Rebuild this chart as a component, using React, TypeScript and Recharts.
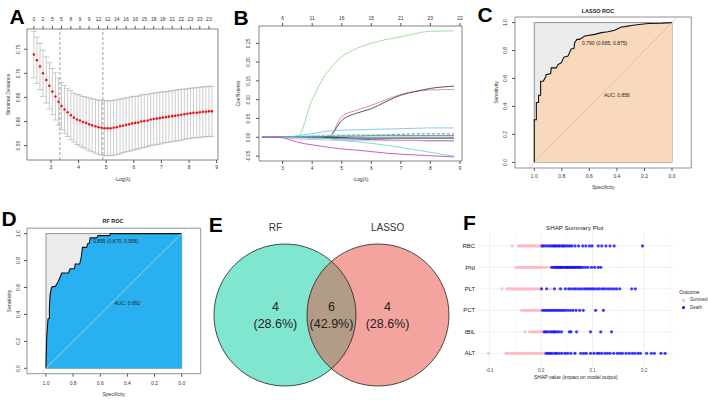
import React from "react"
import {
  ComposedChart, Line, Area, XAxis, YAxis, ErrorBar, ReferenceLine, ReferenceArea, ReferenceDot,
  ScatterChart, Scatter,
} from "recharts"

const FONT = "'Liberation Sans', Arial, Helvetica, sans-serif"

// ---- A: cv binomial deviance ----
const lambdaA = [2.38, 2.49, 2.6, 2.71, 2.83, 2.94, 3.05, 3.16, 3.27, 3.38, 3.49, 3.6, 3.72, 3.83, 3.94, 4.05, 4.16, 4.27, 4.38, 4.49, 4.61, 4.72, 4.83, 4.94, 5.05, 5.16, 5.27, 5.38, 5.5, 5.61, 5.72, 5.83, 5.94, 6.05, 6.16, 6.27, 6.38, 6.5, 6.61, 6.72, 6.83, 6.94, 7.05, 7.16, 7.27, 7.39, 7.5, 7.61, 7.72, 7.83, 7.94, 8.05, 8.16, 8.28, 8.39, 8.5, 8.61, 8.72, 8.83]
const devianceA = [0.739, 0.727, 0.714, 0.7, 0.686, 0.674, 0.662, 0.652, 0.641, 0.632, 0.625, 0.619, 0.613, 0.608, 0.604, 0.602, 0.599, 0.597, 0.594, 0.592, 0.59, 0.588, 0.587, 0.586, 0.586, 0.586, 0.587, 0.588, 0.59, 0.591, 0.593, 0.594, 0.596, 0.597, 0.598, 0.6, 0.601, 0.602, 0.604, 0.605, 0.606, 0.607, 0.608, 0.609, 0.61, 0.611, 0.612, 0.613, 0.614, 0.615, 0.616, 0.617, 0.618, 0.618, 0.619, 0.62, 0.62, 0.621, 0.621]
const seA = [0.048, 0.048, 0.048, 0.048, 0.048, 0.048, 0.048, 0.049, 0.049, 0.049, 0.05, 0.05, 0.051, 0.051, 0.052, 0.053, 0.053, 0.054, 0.055, 0.055, 0.056, 0.056, 0.057, 0.057, 0.057, 0.057, 0.057, 0.057, 0.057, 0.056, 0.056, 0.056, 0.056, 0.055, 0.055, 0.055, 0.055, 0.054, 0.054, 0.054, 0.054, 0.054, 0.053, 0.053, 0.053, 0.053, 0.053, 0.053, 0.053, 0.052, 0.052, 0.052, 0.052, 0.052, 0.052, 0.052, 0.052, 0.052, 0.052]
const topPosA = [2.38, 2.71, 3.05, 3.38, 3.72, 4.05, 4.38, 4.72, 5.05, 5.38, 5.72, 6.05, 6.38, 6.72, 7.05, 7.39, 7.72, 8.05, 8.39, 8.72]
const topLabelsA = ["0", "2", "5", "5", "8", "9", "9", "12", "12", "14", "16", "16", "15", "18", "18", "21", "22", "23", "23", "23"]
const cutsA = [3.32, 4.88]

// ---- B: coefficient paths ----
const lambdaB = [2.3, 2.8, 3.2, 3.5, 4.0, 4.5, 4.6, 5.0, 5.5, 6.0, 6.5, 7.0, 7.5, 8.0, 8.8]
const topLabelsB = ["6", "11", "16", "15", "21", "23", "22"]
const coefB: { name: string; color: string; dash?: string; values: number[] }[] = [
  { name: "v1", color: "#96d896", values: [0, 0, 0, 0.001, 0.1, 0.172, 0.182, 0.214, 0.236, 0.25, 0.26, 0.267, 0.276, 0.282, 0.283] },
  { name: "v2", color: "#e6789a", values: [0, 0, 0, 0, 0, 0, 0.003, 0.055, 0.072, 0.085, 0.1, 0.114, 0.122, 0.126, 0.127] },
  { name: "v3", color: "#444444", values: [0, 0, 0, 0, 0, 0, 0.003, 0.045, 0.064, 0.076, 0.095, 0.112, 0.122, 0.13, 0.136] },
  { name: "v4", color: "#7cc5e8", values: [0, 0, 0.001, 0.004, 0.01, 0.016, 0.017, 0.019, 0.02, 0.021, 0.022, 0.023, 0.024, 0.025, 0.025] },
  { name: "v5", color: "#7060d0", dash: "3 2", values: [0, 0, 0, 0.001, 0.003, 0.004, 0.004, 0.005, 0.006, 0.006, 0.007, 0.008, 0.009, 0.009, 0.009] },
  { name: "v6", color: "#a8e8e0", values: [0, 0, 0.001, 0.003, 0.005, 0.006, 0.006, 0.006, 0.006, 0.006, 0.006, 0.005, 0.005, 0.005, 0.005] },
  { name: "v7", color: "#3a8f5a", values: [0, 0, 0, 0, 0.001, 0.002, 0.002, 0.003, 0.003, 0.004, 0.004, 0.004, 0.004, 0.004, 0.004] },
  { name: "v8", color: "#111111", values: [0, 0, 0, 0, -0.001, -0.001, -0.001, -0.001, -0.002, -0.002, -0.002, -0.002, -0.002, -0.002, -0.002] },
  { name: "v9", color: "#5060e0", values: [0, 0, 0, 0, 0, -0.002, -0.003, -0.004, -0.005, -0.006, -0.007, -0.008, -0.008, -0.009, -0.009] },
  { name: "v10", color: "#f0a8b8", values: [0, 0, -0.002, -0.004, -0.006, -0.007, -0.008, -0.008, -0.008, -0.009, -0.009, -0.009, -0.009, -0.01, -0.01] },
  { name: "v11", color: "#5ce0d8", values: [0, 0, 0, -0.001, -0.002, -0.003, -0.004, -0.008, -0.012, -0.016, -0.021, -0.027, -0.033, -0.04, -0.05] },
  { name: "v12", color: "#c548c5", values: [0, 0, -0.005, -0.013, -0.02, -0.026, -0.027, -0.031, -0.034, -0.038, -0.042, -0.045, -0.047, -0.049, -0.052] },
]

// ---- C / D: ROC curves ----
const specLasso = [1.0, 1.0, 0.985, 0.985, 0.969, 0.969, 0.954, 0.954, 0.935, 0.915, 0.915, 0.881, 0.877, 0.84, 0.828, 0.804, 0.785, 0.756, 0.731, 0.712, 0.707, 0.69, 0.671, 0.634, 0.562, 0.513, 0.465, 0.416, 0.368, 0.344, 0.271, 0.174, 0.077, 0.0]
const sensLasso = [0.0, 0.305, 0.305, 0.429, 0.429, 0.48, 0.48, 0.58, 0.58, 0.616, 0.628, 0.635, 0.676, 0.676, 0.7, 0.712, 0.753, 0.76, 0.813, 0.815, 0.856, 0.88, 0.88, 0.904, 0.916, 0.928, 0.935, 0.945, 0.969, 0.971, 0.983, 0.993, 0.995, 1.0]
const specRf = [1.0, 0.995, 0.99, 0.985, 0.975, 0.975, 0.97, 0.96, 0.955, 0.931, 0.916, 0.901, 0.884, 0.835, 0.822, 0.79, 0.785, 0.752, 0.741, 0.731, 0.7, 0.694, 0.68, 0.674, 0.625, 0.617, 0.53, 0.526, 0.0]
const sensRf = [0.0, 0.223, 0.298, 0.367, 0.37, 0.447, 0.546, 0.596, 0.605, 0.608, 0.633, 0.665, 0.707, 0.707, 0.739, 0.739, 0.774, 0.774, 0.819, 0.898, 0.898, 0.923, 0.93, 0.968, 0.968, 0.985, 0.985, 1.0, 1.0]
const rocTicks = [1, 0.8, 0.6, 0.4, 0.2, 0]

// ---- E: Venn ----
const vennSets = ["RF", "LASSO"]
const vennColors = ["#80e6cf", "#f4a49e"]
const vennCenters = [-0.655, 0.655]
const vennCounts = ["4", "6", "4"]
const vennPcts = ["(28.6%)", "(42.9%)", "(28.6%)"]
const vennRegionX = [-0.79, 0, 0.79]
const VENN_R = 1

// ---- F: SHAP ----
const features = ["RBC", "PNI", "PLT", "PCT", "IBIL", "ALT"]
const shapSurvived: number[][] = [
  [-0.056, -0.044, -0.041, -0.039, -0.036, -0.034, -0.031, -0.029, -0.027, -0.024, -0.022, -0.019, -0.017, -0.014, -0.012, -0.009, -0.007, -0.004, -0.002, 0.001, 0.004, 0.009, 0.015, 0.022, 0.031, 0.044],
  [-0.048, -0.045, -0.043, -0.04, -0.038, -0.035, -0.032, -0.03, -0.027, -0.024, -0.021, -0.019, -0.016, -0.013, -0.01, -0.007, -0.004, -0.001, 0.003, 0.007, 0.012, 0.018],
  [-0.076, -0.066, -0.063, -0.06, -0.057, -0.054, -0.051, -0.048, -0.045, -0.042, -0.039, -0.036, -0.033, -0.03, -0.027, -0.024, -0.021, -0.018, -0.015, -0.012, -0.009, -0.006, -0.003, 0.0, 0.018, 0.035, 0.052, 0.074, 0.093],
  [-0.038, -0.034, -0.031, -0.028, -0.025, -0.022, -0.019, -0.016, -0.013, -0.01, -0.007, -0.004, -0.001],
  [-0.031, -0.022, -0.018, -0.015, -0.012, -0.009, -0.007, -0.004, -0.002, 0.001, 0.004, 0.021, 0.027],
  [-0.102, -0.068, -0.065, -0.062, -0.059, -0.056, -0.053, -0.05, -0.047, -0.044, -0.041, -0.038, -0.035, -0.032, -0.029, -0.026, -0.023, -0.02, -0.017, -0.014, -0.011, -0.008, -0.005, -0.002, 0.002, 0.006, 0.011, 0.017, 0.03, 0.047, 0.065, 0.081, 0.1],
]
const shapDeath: number[][] = [
  [0.002, 0.006, 0.011, 0.016, 0.02, 0.024, 0.027, 0.03, 0.034, 0.037, 0.041, 0.044, 0.048, 0.052, 0.056, 0.06, 0.066, 0.073, 0.081, 0.087, 0.094, 0.099, 0.111, 0.118, 0.126, 0.134, 0.142, 0.197],
  [0.021, 0.025, 0.028, 0.031, 0.034, 0.037, 0.039, 0.042, 0.045, 0.048, 0.051, 0.053, 0.056, 0.059, 0.062, 0.065, 0.068, 0.071, 0.074, 0.077, 0.081, 0.086, 0.091, 0.098, 0.104, 0.111, 0.116],
  [0.001, 0.011, 0.026, 0.038, 0.047, 0.054, 0.059, 0.064, 0.068, 0.073, 0.078, 0.083, 0.087, 0.091, 0.096, 0.1, 0.104, 0.109, 0.113, 0.118, 0.122, 0.127, 0.132, 0.137, 0.142, 0.147, 0.153, 0.176, 0.183],
  [0.003, 0.007, 0.011, 0.015, 0.019, 0.023, 0.027, 0.031, 0.035, 0.039, 0.043, 0.047, 0.052, 0.057, 0.062, 0.068, 0.075, 0.082, 0.106, 0.121],
  [0.006, 0.009, 0.012, 0.016, 0.02, 0.024, 0.027, 0.031, 0.035, 0.04, 0.055, 0.058, 0.069, 0.096, 0.116, 0.137],
  [0.01, 0.014, 0.018, 0.022, 0.027, 0.031, 0.036, 0.041, 0.047, 0.052, 0.058, 0.066, 0.077, 0.083, 0.088, 0.096, 0.103, 0.109, 0.113, 0.118, 0.124, 0.129, 0.134, 0.141, 0.148, 0.153, 0.158, 0.165, 0.171, 0.177, 0.182, 0.188, 0.193, 0.205, 0.214, 0.22, 0.233, 0.241],
]
const shapTicks = [-0.1, 0, 0.1, 0.2]
const shapMinor = [-0.05, 0.05, 0.15, 0.25]

const tickStyle = { fontSize: 5, fill: "#333", fontFamily: FONT }

function rotTick(fmt: (v: number) => string) {
  return (p: any) => (
    <text x={p.x} y={p.y} transform={`rotate(-90 ${p.x} ${p.y})`} textAnchor="middle" fontSize={5} fill="#333" fontFamily={FONT}>
      {fmt(p.payload.value)}
    </text>
  )
}

function yTitle(value: string, offset: number) {
  return { value, angle: -90, position: "insideLeft" as const, offset, style: { textAnchor: "middle", fontSize: 5, fill: "#333", fontFamily: FONT } }
}

function xTitle(value: string, offset: number) {
  return { value, position: "insideBottom" as const, offset, style: { fontSize: 5, fill: "#333", fontFamily: FONT } }
}

function Text({ x, y, size, children, bold, color }: any) {
  return (
    <div style={{ position: "absolute", left: x, top: y, transform: "translate(-50%, -50%)", fontSize: size, lineHeight: 1, fontWeight: bold ? 700 : 400, color: color || "#222", whiteSpace: "nowrap" }}>
      {children}
    </div>
  )
}

function PanelA() {
  const rows = lambdaA.map((x, i) => ({ x, dev: devianceA[i], se: seA[i] }))
  return (
    <ComposedChart width={230} height={195} data={rows} margin={{ top: 0, right: 12, bottom: 0, left: 0 }}>
      <XAxis type="number" dataKey="x" domain={[2.13, 9.05]} allowDataOverflow ticks={[3, 4, 5, 6, 7, 8, 9]} interval={0}
        height={35} tick={tickStyle} tickSize={3} tickMargin={2} axisLine={false} stroke="#555" label={xTitle("-Log(λ)", 14)} />
      <XAxis xAxisId="top" orientation="top" type="number" dataKey="x" domain={[2.13, 9.05]} allowDataOverflow ticks={topPosA} interval={0}
        height={29} tick={tickStyle} tickSize={3} tickMargin={5} axisLine={false} stroke="#555" tickFormatter={(_v: number, i: number) => topLabelsA[i]} />
      <YAxis type="number" domain={[0.52, 0.792]} allowDataOverflow ticks={[0.55, 0.6, 0.65, 0.7, 0.75]} interval={0} width={27}
        tick={rotTick((v) => v.toFixed(2))} tickSize={3} tickMargin={4} axisLine={false} stroke="#555" label={yTitle("Binomial Deviance", 8)} />
      <ReferenceArea x1={2.13} x2={9.05} y1={0.52} y2={0.792} fill="none" stroke="#666" strokeWidth={0.8} />
      {cutsA.map((c) => (
        <ReferenceLine key={c} x={c} stroke="#777" strokeWidth={0.7} strokeDasharray="3 2" />
      ))}
      <Line dataKey="dev" stroke="none" isAnimationActive={false} dot={{ r: 1.3, fill: "#e8141c", stroke: "none" }}>
        <ErrorBar dataKey="se" direction="y" width={3} stroke="#a8a8a8" strokeWidth={0.6} />
      </Line>
    </ComposedChart>
  )
}

function PanelB() {
  const rows = lambdaB.map((x, i) => {
    const r: any = { x }
    coefB.forEach((c) => (r[c.name] = c.values[i]))
    return r
  })
  return (
    <ComposedChart width={238} height={195} data={rows} margin={{ top: 0, right: 6, bottom: 0, left: 0 }}>
      <XAxis type="number" dataKey="x" domain={[2.2, 9.07]} allowDataOverflow ticks={[3, 4, 5, 6, 7, 8, 9]} interval={0}
        height={34} tick={tickStyle} tickSize={3} tickMargin={2.5} axisLine={false} stroke="#555" label={xTitle("-Log(λ)", 14)} />
      <XAxis xAxisId="top" orientation="top" type="number" dataKey="x" domain={[2.2, 9.07]} allowDataOverflow ticks={[3, 4, 5, 6, 7, 8, 9]} interval={0}
        height={26} tick={tickStyle} tickSize={3} tickMargin={3} axisLine={false} stroke="#555" tickFormatter={(_v: number, i: number) => topLabelsB[i]} />
      <YAxis type="number" domain={[-0.063, 0.296]} allowDataOverflow ticks={[-0.05, 0, 0.05, 0.1, 0.15, 0.2, 0.25]} interval={0} width={29}
        tick={rotTick((v) => v.toFixed(2))} tickSize={3} tickMargin={6} axisLine={false} stroke="#555" label={yTitle("Coefficients", 8.3)} />
      <ReferenceArea x1={2.2} x2={9.07} y1={-0.063} y2={0.296} fill="none" stroke="#666" strokeWidth={0.8} />
      {coefB.map((c) => (
        <Line key={c.name} dataKey={c.name} type="monotone" stroke={c.color} strokeWidth={0.9} strokeDasharray={c.dash} dot={false} isAnimationActive={false} />
      ))}
    </ComposedChart>
  )
}

function RocPanel(props: any) {
  const { spec, sens, fill, diag, w, h, yw, mr, mt, xh, ytm, xtm, ylab, xlab, thr, thrText, auc } = props
  const rows = spec.map((s: number, i: number) => ({ spec: s, sens: sens[i] }))
  return (
    <ComposedChart width={w} height={h} data={rows} margin={{ top: mt, right: mr, bottom: 0, left: 0 }}>
      <XAxis type="number" dataKey="spec" reversed domain={[-0.14, 1.14]} allowDataOverflow ticks={rocTicks} interval={0}
        height={xh} tick={tickStyle} tickSize={3} tickMargin={xtm} axisLine={false} stroke="#555" tickFormatter={(v: number) => v.toFixed(1)} label={xTitle("Specificity", xlab)} />
      <YAxis type="number" domain={[-0.04, 1.04]} allowDataOverflow ticks={[0, 0.2, 0.4, 0.6, 0.8, 1]} interval={0} width={yw}
        tick={rotTick((v) => v.toFixed(1))} tickSize={3} tickMargin={ytm} axisLine={false} stroke="#555" label={yTitle("Sensitivity", ylab)} />
      <ReferenceArea x1={-0.14} x2={1.14} y1={-0.04} y2={1.04} fill="none" stroke="#777" strokeWidth={0.8} />
      <ReferenceArea x1={0} x2={1} y1={0} y2={1} fill="#ebebeb" fillOpacity={1} stroke="#7a7a7a" strokeWidth={0.8} />
      <Area dataKey="sens" type="linear" fill={fill} fillOpacity={1} stroke="#111" strokeWidth={1.1} isAnimationActive={false} />
      <ReferenceLine segment={[{ x: 1.04, y: -0.04 }, { x: -0.04, y: 1.04 }]} stroke={diag} strokeWidth={0.7} />
      <ReferenceDot x={thr[0]} y={thr[1]} r={0} fill="none" stroke="none"
        label={{ value: thrText, position: "right", offset: 1, style: { fontSize: 5, fill: "#222", fontFamily: FONT } }} />
      <ReferenceDot x={0.4} y={0.484} r={0} fill="none" stroke="none"
        label={{ value: auc, position: "center", style: { fontSize: 5, fill: "#222", fontFamily: FONT } }} />
    </ComposedChart>
  )
}

function PanelE() {
  const W = 255
  const H = 205
  const xDom = [-1.739, 1.852]
  const yDom = [-1.197, 1.69]
  const px = W / (xDom[1] - xDom[0])
  const r = VENN_R * px
  const half = vennCenters[1] * px
  const hh = Math.sqrt(r * r - half * half)
  const sets = vennSets.map((name, i) => ({ x: vennCenters[i], y: 0, name, color: vennColors[i] }))
  const names = vennSets.map((name, i) => ({ x: vennRegionX[i === 0 ? 0 : 2], y: 1.23, name }))
  const regions = vennCounts.map((c, i) => ({ x: vennRegionX[i], y: 0, count: c, pct: vennPcts[i] }))
  return (
    <ScatterChart width={W} height={H} margin={{ top: 0, right: 0, bottom: 0, left: 0 }}>
      <XAxis type="number" dataKey="x" domain={xDom} allowDataOverflow hide />
      <YAxis type="number" dataKey="y" domain={yDom} allowDataOverflow hide />
      <Scatter data={sets} isAnimationActive={false}
        shape={(p: any) => <circle cx={p.cx} cy={p.cy} r={r} fill={p.payload.color} stroke="none" />} />
      <Scatter data={[{ x: 0, y: 0 }]} isAnimationActive={false}
        shape={(p: any) => (
          <path d={`M${p.cx},${p.cy - hh} A${r},${r} 0 0 0 ${p.cx},${p.cy + hh} A${r},${r} 0 0 0 ${p.cx},${p.cy - hh} Z`} fill="#b39c86" />
        )} />
      <Scatter data={sets} isAnimationActive={false}
        shape={(p: any) => <circle cx={p.cx} cy={p.cy} r={r} fill="none" stroke="#222" strokeWidth={0.8} />} />
      <Scatter data={names} isAnimationActive={false}
        shape={(p: any) => (
          <text x={p.cx} y={p.cy} dy="0.36em" textAnchor="middle" fontSize={10} fill="#333" fontFamily={FONT}>{p.payload.name}</text>
        )} />
      <Scatter data={regions} isAnimationActive={false}
        shape={(p: any) => (
          <g>
            <text x={p.cx} y={p.cy - 8.6} dy="0.36em" textAnchor="middle" fontSize={12.5} fill="#222" fontFamily={FONT}>{p.payload.count}</text>
            <text x={p.cx} y={p.cy + 8.7} dy="0.36em" textAnchor="middle" fontSize={12.5} fill="#222" fontFamily={FONT}>{p.payload.pct}</text>
          </g>
        )} />
    </ScatterChart>
  )
}

function PanelF() {
  const surv = features.flatMap((_f, i) => shapSurvived[i].map((v) => ({ x: v, y: i })))
  const death = features.flatMap((_f, i) => shapDeath[i].map((v) => ({ x: v, y: i })))
  return (
    <ScatterChart width={253} height={185} margin={{ top: 18, right: 34.6, bottom: 0, left: 0 }}>
      <XAxis type="number" dataKey="x" domain={[-0.122, 0.257]} allowDataOverflow ticks={shapTicks} interval={0} height={33.8}
        tick={{ fontSize: 4.5, fill: "#4d4d4d", fontFamily: FONT }} tickSize={0} tickMargin={3} axisLine={false} tickLine={false}
        tickFormatter={(v: number) => v.toFixed(1)}
        label={{ value: "SHAP value (impact on model output)", position: "insideBottom", offset: 21.5, style: { fontSize: 5, fill: "#222", fontFamily: FONT } }} />
      <YAxis type="number" dataKey="y" reversed domain={[-0.6, 5.6]} allowDataOverflow ticks={[0, 1, 2, 3, 4, 5]} interval={0} width={23.2}
        tick={{ fontSize: 6, fill: "#222", fontFamily: FONT }} tickSize={0} tickMargin={3} axisLine={false} tickLine={false}
        tickFormatter={(v: number) => features[v]} />
      {shapMinor.map((v) => (
        <ReferenceLine key={"m" + v} x={v} stroke="#f0f0f0" strokeWidth={0.5} />
      ))}
      {shapTicks.map((v) => (
        <ReferenceLine key={"M" + v} x={v} stroke="#e8e8e8" strokeWidth={0.7} />
      ))}
      {features.map((f, i) => (
        <ReferenceLine key={f} y={i} stroke="#e8e8e8" strokeWidth={0.7} />
      ))}
      <Scatter data={surv} isAnimationActive={false}
        shape={(p: any) => <circle cx={p.cx} cy={p.cy} r={1.6} fill="#ffb6c1" fillOpacity={0.85} />} />
      <Scatter data={death} isAnimationActive={false}
        shape={(p: any) => <circle cx={p.cx} cy={p.cy} r={1.6} fill="#0000ff" fillOpacity={0.75} />} />
    </ScatterChart>
  )
}

export default function App() {
  return (
    <div style={{ position: "fixed", left: 0, top: 0, width: 708, height: 400, background: "#fff", fontFamily: FONT, overflow: "hidden" }}>
      <div style={{ position: "absolute", left: 0, top: 0 }}><PanelA /></div>
      <div style={{ position: "absolute", left: 230, top: 0 }}><PanelB /></div>
      <div style={{ position: "absolute", left: 468, top: 0 }}>
        <RocPanel spec={specLasso} sens={sensLasso} fill="#f9d9bc" diag="#e6a8a0" w={240} h={195} yw={47} mr={16.7} mt={17} xh={27}
          ytm={4.5} xtm={3.9} ylab={28} xlab={6.5} thr={[0.66, 0.855]} thrText="0.790 (0.685, 0.875)" auc="AUC: 0.856" />
      </div>
      <div style={{ position: "absolute", left: 0, top: 195 }}>
        <RocPanel spec={specRf} sens={sensRf} fill="#29b0f0" diag="#c8d8e0" w={230} h={205} yw={27} mr={29.3} mt={33.2} xh={26.3}
          ytm={4} xtm={4.8} ylab={9.3} xlab={4.2} thr={[0.66, 0.945]} thrText="0.895 (0.670, 0.958)" auc="AUC: 0.892" />
      </div>
      <div style={{ position: "absolute", left: 208, top: 195 }}><PanelE /></div>
      <div style={{ position: "absolute", left: 455, top: 215 }}><PanelF /></div>

      <Text x={598} y={11.7} size={5.5} bold>LASSO ROC</Text>
      <Text x={113} y={222.3} size={5.5} bold>RF ROC</Text>
      <Text x={574.7} y={227.7} size={6.2}>SHAP Summary Plot</Text>

      <div style={{ position: "absolute", left: 679.3, top: 290, fontSize: 5, lineHeight: 1, color: "#222" }}>Outcome</div>
      <div style={{ position: "absolute", left: 681.8, top: 298.5, width: 3, height: 3, borderRadius: 2, background: "#ffb6c1" }} />
      <div style={{ position: "absolute", left: 690, top: 298, fontSize: 4.5, lineHeight: 1, color: "#333" }}>Survived</div>
      <div style={{ position: "absolute", left: 681.8, top: 306.2, width: 3, height: 3, borderRadius: 2, background: "#0000ff" }} />
      <div style={{ position: "absolute", left: 690, top: 305.7, fontSize: 4.5, lineHeight: 1, color: "#333" }}>Death</div>

      <Text x={17.2} y={15.8} size={21} bold color="#000">A</Text>
      <Text x={241.2} y={17.2} size={21} bold color="#000">B</Text>
      <Text x={485} y={14.2} size={21} bold color="#000">C</Text>
      <Text x={9.2} y={217.5} size={21} bold color="#000">D</Text>
      <Text x={215.8} y={223.8} size={21} bold color="#000">E</Text>
      <Text x={469.5} y={221.5} size={21} bold color="#000">F</Text>
    </div>
  )
}
